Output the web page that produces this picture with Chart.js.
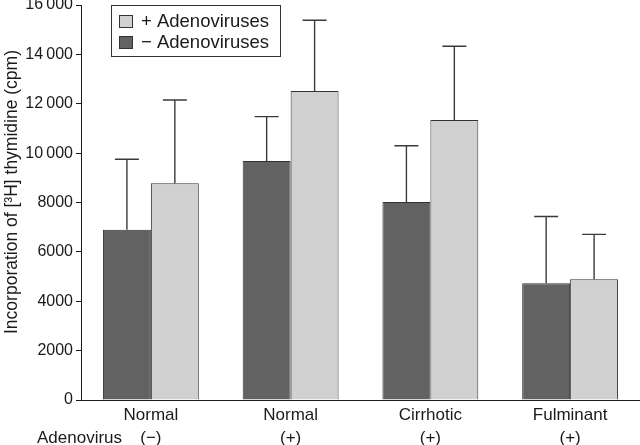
<!DOCTYPE html>
<html>
<head>
<meta charset="utf-8">
<script src="https://cdn.jsdelivr.net/npm/chart.js@4/dist/chart.umd.min.js"></script>
<style>
html,body{margin:0;padding:0;background:#fff;}
#wrap{width:640px;height:445px;position:relative;}
</style>
</head>
<body>
<div id="wrap"><canvas id="c" width="640" height="445"></canvas></div>
<script>
const categories = [["Normal","(\u2212)"],["Normal","(+)"],["Cirrhotic","(+)"],["Fulminant","(+)"]];
const seriesNames = ["\u2212 Adenoviruses","+ Adenoviruses"];
const minusValues = [6900, 9680, 8020, 4730];
const minusErrors = [2850, 1800, 2280, 2700];
const plusValues = [8780, 12520, 11340, 4890];
const plusErrors = [3370, 2860, 2990, 1820];
const yTicks = [0, 2000, 4000, 6000, 8000, 10000, 12000, 14000, 16000];
const yTickLabels = ["0","2000","4000","6000","8000","10\u2009000","12\u2009000","14\u2009000","16\u2009000"];
const rowLabel = "Adenovirus";
const yTitle = "Incorporation of [\u00B3H] thymidine (cpm)";

const FONT = "'Liberation Sans', Arial, Helvetica, sans-serif";
const ink = "#1a1a1a";

function makePattern(){
  const p = document.createElement('canvas');
  p.width = 2; p.height = 2;
  const g = p.getContext('2d');
  g.fillStyle = '#d6d6d6'; g.fillRect(0,0,2,2);
  g.fillStyle = '#cbcbcb'; g.fillRect(0,0,1,1); g.fillRect(1,1,1,1);
  return g.createPattern(p,'repeat');
}
const lightFill = makePattern();
const darkFill = '#626262';

const errorBars = {
  id:'errorBars',
  afterDatasetsDraw(chart){
    const ctx = chart.ctx;
    const y = chart.scales.y;
    ctx.save();
    ctx.strokeStyle = '#3a3a3a';
    ctx.lineWidth = 1.4;
    chart.data.datasets.forEach((ds,i)=>{
      const meta = chart.getDatasetMeta(i);
      meta.data.forEach((bar,j)=>{
        const top = y.getPixelForValue(ds.data[j] + ds.errors[j]);
        const cap = bar.width/2;
        ctx.beginPath();
        ctx.moveTo(bar.x, bar.y);
        ctx.lineTo(bar.x, top);
        ctx.moveTo(bar.x - cap/2, top);
        ctx.lineTo(bar.x + cap/2, top);
        ctx.stroke();
      });
    });
    ctx.restore();
  }
};

const extras = {
  id:'extras',
  afterDraw(chart){
    const ctx = chart.ctx;
    const a = chart.chartArea;
    ctx.save();
    // y title
    ctx.fillStyle = ink;
    ctx.font = "17.5px " + FONT;
    ctx.textAlign = 'center';
    ctx.textBaseline = 'middle';
    ctx.translate(12, 192);
    ctx.rotate(-Math.PI/2);
    ctx.fillText(yTitle, 0, 0);
    ctx.setTransform(1,0,0,1,0,0);
    // row label
    ctx.font = "17px " + FONT;
    ctx.textBaseline = 'middle';
    ctx.textAlign = 'left';
    ctx.fillText(rowLabel, 37, a.bottom + 38.5);
    // legend (reverse order: + first)
    const bx = a.left + 30, by = a.top, bw = 169, bh = 51;
    ctx.fillStyle = '#fff';
    ctx.fillRect(bx, by, bw, bh);
    ctx.strokeStyle = '#333';
    ctx.lineWidth = 1;
    ctx.strokeRect(bx+0.5, by+0.5, bw, bh);
    const order = [1,0];
    order.forEach((di,k)=>{
      const ds = chart.data.datasets[di];
      const sy = by + 10 + k*21;
      ctx.fillStyle = ds.backgroundColor;
      ctx.fillRect(bx+8, sy, 14, 13);
      ctx.strokeStyle = '#333';
      ctx.strokeRect(bx+8.5, sy+0.5, 13, 12);
      ctx.fillStyle = ink;
      ctx.font = "18.5px " + FONT;
      ctx.textBaseline = 'middle';
      ctx.fillText(ds.label, bx+30, sy+7);
    });
    ctx.restore();
  }
};

new Chart(document.getElementById('c'), {
  type:'bar',
  data:{
    labels: categories,
    datasets:[
      {label: seriesNames[0], data: minusValues, errors: minusErrors, backgroundColor: darkFill, borderColor:'#333', borderWidth:1},
      {label: seriesNames[1], data: plusValues, errors: plusErrors, backgroundColor: lightFill, borderColor:'#333', borderWidth:1}
    ]
  },
  options:{
    responsive:false,
    animation:false,
    devicePixelRatio:1,
    layout:{padding:{top:5,right:0,left:0,bottom:0}},
    datasets:{bar:{categoryPercentage:0.686, barPercentage:1}},
    plugins:{legend:{display:false}, tooltip:{enabled:false}},
    scales:{
      x:{
        grid:{display:false, drawTicks:false, tickLength:0},
        border:{display:true,color:ink,width:1},
        ticks:{color:ink, font:{size:17, family:FONT, lineHeight:1.35}, padding:4, maxRotation:0, autoSkip:false},
        afterFit(s){ s.height = 45; s.paddingLeft = 0; s.paddingRight = 0; }
      },
      y:{
        min:0, max:16000,
        afterBuildTicks(s){ s.ticks = yTicks.map(v=>({value:v})); },
        grid:{drawOnChartArea:false, drawTicks:true, tickLength:5, color:ink},
        border:{display:true,color:ink,width:1},
        ticks:{color:ink, font:{size:16, family:FONT}, padding:3,
          callback(v){ const i = yTicks.indexOf(v); return i>=0 ? yTickLabels[i] : ''; }},
        title:{display:false},
        afterFit(s){ s.width = 81; s.paddingTop = 0; s.paddingBottom = 0; }
      }
    }
  },
  plugins:[errorBars, extras]
});
</script>
</body>
</html>
